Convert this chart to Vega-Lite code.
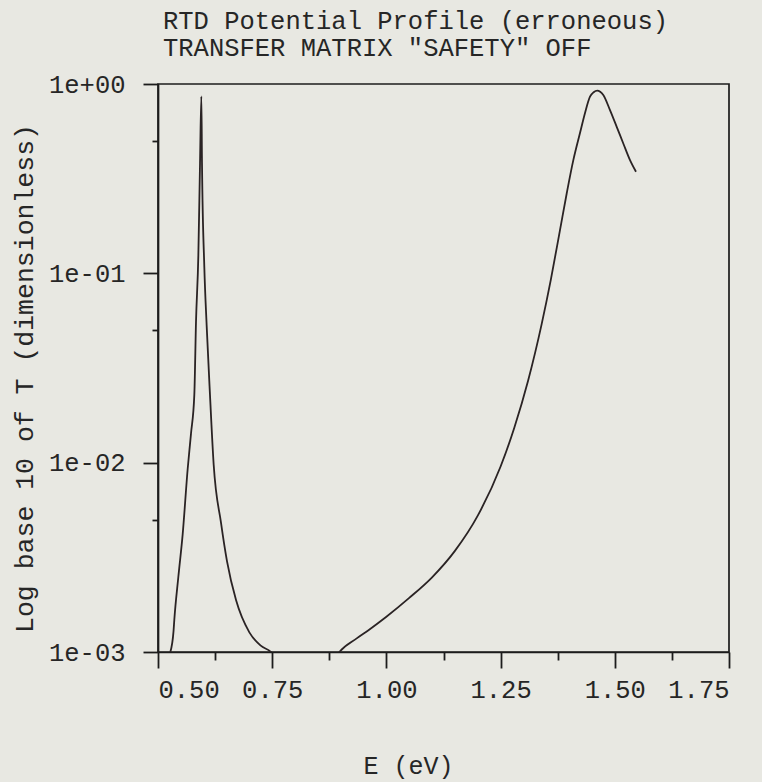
{
  "$schema": "https://vega.github.io/schema/vega-lite/v6.json",
  "width": 571,
  "height": 568,
  "autosize": {"type": "none"},
  "padding": {"left": 158, "top": 84, "right": 33, "bottom": 130},
  "background": "#e8e8e2",
  "config": {
    "view": {"stroke": "#1c1c1c", "strokeWidth": 1.7},
    "font": "Liberation Mono",
    "axis": {
      "labelFont": "Liberation Mono",
      "labelFontSize": 25.5,
      "labelColor": "#262626",
      "titleFont": "Liberation Mono",
      "titleFontSize": 25,
      "titleFontWeight": "normal",
      "titleColor": "#262626",
      "domainColor": "#1c1c1c",
      "domainWidth": 1.7,
      "tickColor": "#1c1c1c",
      "tickWidth": 1.8,
      "grid": false
    }
  },
  "title": {
    "text": ["RTD Potential Profile (erroneous)", "TRANSFER MATRIX \"SAFETY\" OFF"],
    "anchor": "start",
    "frame": "group",
    "font": "Liberation Mono",
    "fontSize": 25.5,
    "fontWeight": "normal",
    "color": "#262626",
    "baseline": "alphabetic",
    "lineHeight": 27,
    "offset": 30,
    "dx": 5,
    "dy": 39
  },
  "data": {
    "values": [
      {"E": 0.527, "T": 0.00100},
      {"E": 0.534, "T": 0.00129},
      {"E": 0.5358, "T": 0.00149},
      {"E": 0.5445, "T": 0.00249},
      {"E": 0.554, "T": 0.00418},
      {"E": 0.565, "T": 0.00929},
      {"E": 0.5722, "T": 0.0142},
      {"E": 0.5795, "T": 0.0228},
      {"E": 0.5832, "T": 0.0555},
      {"E": 0.5883, "T": 0.124},
      {"E": 0.592, "T": 0.382},
      {"E": 0.5949, "T": 0.861},
      {"E": 0.5963, "T": 0.382},
      {"E": 0.6014, "T": 0.108},
      {"E": 0.6065, "T": 0.0531},
      {"E": 0.6138, "T": 0.0228},
      {"E": 0.6219, "T": 0.00975},
      {"E": 0.6379, "T": 0.00482},
      {"E": 0.6511, "T": 0.00301},
      {"E": 0.6708, "T": 0.00188},
      {"E": 0.70, "T": 0.00127},
      {"E": 0.725, "T": 0.00108},
      {"E": 0.747, "T": 0.00100},
      {"E": 0.82, "T": 0.0004},
      {"E": 0.897, "T": 0.00100},
      {"E": 0.935, "T": 0.00118},
      {"E": 0.96, "T": 0.00130},
      {"E": 1.00, "T": 0.001535},
      {"E": 1.05, "T": 0.00193},
      {"E": 1.10, "T": 0.00248},
      {"E": 1.15, "T": 0.00342},
      {"E": 1.20, "T": 0.00525},
      {"E": 1.25, "T": 0.00955},
      {"E": 1.28, "T": 0.0153},
      {"E": 1.31, "T": 0.0270},
      {"E": 1.34, "T": 0.0541},
      {"E": 1.36, "T": 0.0927},
      {"E": 1.38, "T": 0.169},
      {"E": 1.3947, "T": 0.264},
      {"E": 1.4092, "T": 0.396},
      {"E": 1.4238, "T": 0.551},
      {"E": 1.4348, "T": 0.703},
      {"E": 1.4457, "T": 0.857},
      {"E": 1.4537, "T": 0.905},
      {"E": 1.4617, "T": 0.923},
      {"E": 1.468, "T": 0.91},
      {"E": 1.4748, "T": 0.875},
      {"E": 1.4895, "T": 0.728},
      {"E": 1.5042, "T": 0.594},
      {"E": 1.5186, "T": 0.485},
      {"E": 1.5333, "T": 0.396},
      {"E": 1.5464, "T": 0.344}
    ]
  },
  "layer": [
    {
      "mark": {"type": "line", "color": "#2a2324", "strokeWidth": 1.8, "interpolate": "monotone", "clip": true},
      "encoding": {
        "x": {
          "field": "E",
          "type": "quantitative",
          "scale": {"domain": [0.5, 1.75], "nice": false, "zero": false},
          "axis": {
            "orient": "bottom",
            "values": [0.5, 0.75, 1.0, 1.25, 1.5, 1.75],
            "format": ".2f",
            "tickSize": 16,
            "labelPadding": 9,
            "title": "E (eV)",
            "titleX": 250,
            "titleY": 121,
            "titleAlign": "center",
            "titleBaseline": "alphabetic"
          }
        },
        "y": {
          "field": "T",
          "type": "quantitative",
          "scale": {"type": "log", "domain": [0.001, 1], "nice": false},
          "axis": {
            "orient": "left",
            "values": [1, 0.1, 0.01, 0.001],
            "labelExpr": "'1e' + (datum.value >= 1 ? '+00' : '-0' + round(-log(datum.value) / LN10))",
            "tickSize": 15,
            "labelPadding": 18,
            "title": "Log base 10 of T (dimensionless)",
            "titleFontSize": 26.5,
            "titleX": -134,
            "titleY": 294,
            "titleAngle": -90,
            "titleAlign": "center",
            "titleBaseline": "middle"
          }
        }
      }
    },
    {
      "mark": {"type": "line", "strokeOpacity": 0, "clip": true},
      "encoding": {
        "x": {
          "field": "E",
          "type": "quantitative",
          "scale": {"domain": [0.5, 1.75], "nice": false, "zero": false},
          "axis": {
            "orient": "bottom",
            "values": [0.625, 0.875, 1.125, 1.375, 1.625],
            "labels": false,
            "domain": false,
            "tickSize": 8,
            "title": null
          }
        },
        "y": {
          "field": "T",
          "type": "quantitative",
          "scale": {"type": "log", "domain": [0.001, 1], "nice": false},
          "axis": {
            "orient": "left",
            "values": [0.5, 0.05, 0.005],
            "labels": false,
            "domain": false,
            "tickSize": 6,
            "title": null
          }
        }
      }
    }
  ],
  "resolve": {"axis": {"x": "independent", "y": "independent"}}
}
